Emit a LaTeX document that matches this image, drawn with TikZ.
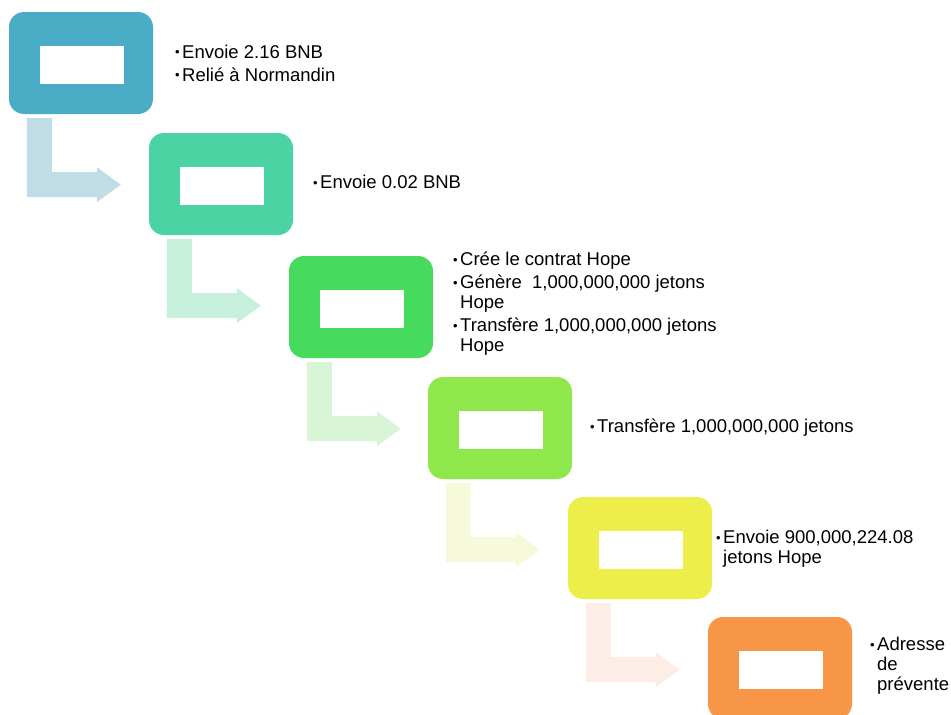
\documentclass[tikz,border=0pt]{standalone}
\usepackage{fontspec}
\setmainfont{Liberation Sans}
\usetikzlibrary{calc, positioning}
\usepackage{xcolor}

\definecolor{stepA}{HTML}{4BACC6}
\definecolor{stepB}{HTML}{4CD3A4}
\definecolor{stepC}{HTML}{47DB5E}
\definecolor{stepD}{HTML}{8FE84B}
\definecolor{stepE}{HTML}{EEEE4A}
\definecolor{stepF}{HTML}{F79646}
\definecolor{arrA}{HTML}{C0DDE6}
\definecolor{arrB}{HTML}{C6EFDC}
\definecolor{arrC}{HTML}{D8F5D6}
\definecolor{arrD}{HTML}{F7F9DB}
\definecolor{arrE}{HTML}{FCEDE7}

\newcommand{\bul}{\makebox[7pt][l]{\raisebox{1.5pt}{\fontsize{13}{13}\selectfont •}}}
\newcommand{\ind}{\hspace*{7pt}}

\begin{document}
\begin{tikzpicture}[x=1pt, y=-1pt,
  box/.style={rounded corners=15pt, minimum width=144pt, minimum height=102pt, inner sep=0pt},
  hole/.style={fill=white, minimum width=84pt, minimum height=38pt, inner sep=0pt},
  note/.style={anchor=west, align=left, inner sep=0pt, font=\fontsize{18.5}{20}\selectfont}]
\useasboundingbox (0,0) rectangle (951,715);

% steps
\node[box, fill=stepA] (b1) at (81,63) {};
\node[box, fill=stepB] (b2) at (221,184) {};
\node[box, fill=stepC] (b3) at (361,307) {};
\node[box, fill=stepD] (b4) at (500,428) {};
\node[box, fill=stepE] (b5) at (640,548) {};
\node[box, fill=stepF] (b6) at (780,668) {};

\node[hole] (h1) at ([xshift=1,yshift=-1.5]b1.center) {};
\node[hole] (h2) at ([xshift=1,yshift=-1.5]b2.center) {};
\node[hole] (h3) at ([xshift=1,yshift=-1.5]b3.center) {};
\node[hole] (h4) at ([xshift=1,yshift=-1.5]b4.center) {};
\node[hole] (h5) at ([xshift=1,yshift=-1.5]b5.center) {};
\node[hole] (h6) at ([xshift=1,yshift=-1.5]b6.center) {};

% bent arrows
\foreach \b/\c in {b1/arrA, b2/arrB, b3/arrC, b4/arrD, b5/arrE}
  \fill[\c] ([shift={(18,4)}]\b.south west) -- ++(25,0) -- ++(0,54) -- ++(45,0)
    -- ++(0,-5) -- ++(24,17.5) -- ++(-24,17.5) -- ++(0,-5) -- ++(-70,0) -- cycle;

% texts
\node[note] (t1) at (175,63) {\bul Envoie 2.16 BNB\\[3pt]\bul Relié à Normandin};
\node[note] (t2) at (313,182) {\bul Envoie 0.02 BNB};
\node[note] (t3) at (453,304) {\bul Crée le contrat Hope\\[3pt]
  \bul Génère\ \ 1,000,000,000 jetons\\\ind Hope\\[3pt]
  \bul Transfère 1,000,000,000 jetons\\\ind Hope};
\node[note] (t4) at (590,428) {\bul Transfère 1,000,000,000 jetons};
\node[note] (t5) at (716,549) {\bul Envoie 900,000,224.08\\\ind jetons Hope};
\node[note] (t6) at (870,666) {\bul Adresse\\\ind de\\\ind prévente};
\end{tikzpicture}
\end{document}
